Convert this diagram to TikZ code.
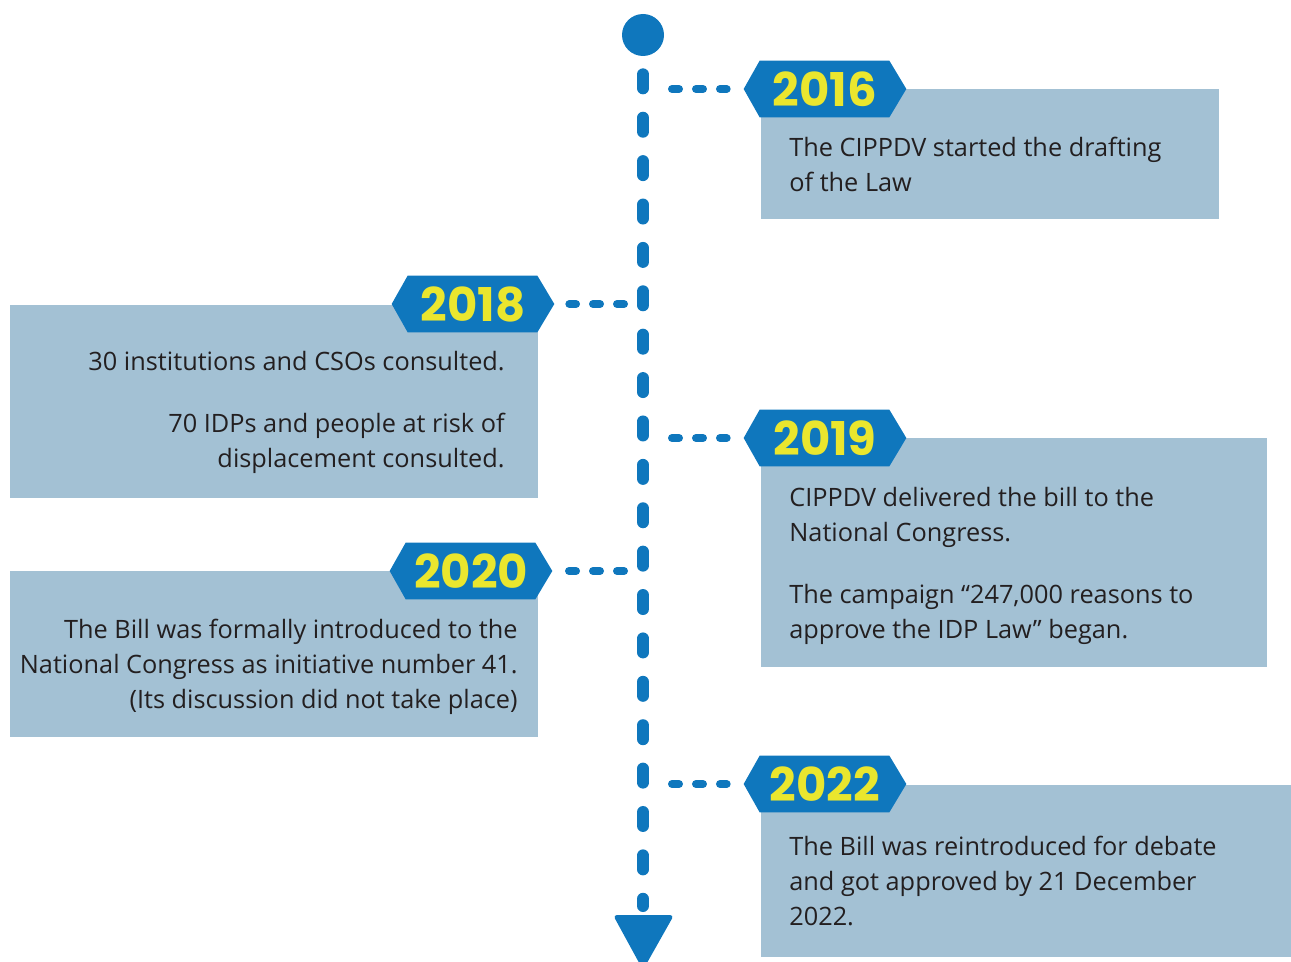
\documentclass[tikz,border=0pt]{standalone}
\usepackage{fontspec}
\setmainfont{Open Sans}
\newfontfamily\yearfont{Poppins}
\usetikzlibrary{backgrounds}

\definecolor{tlblue}{RGB}{15,119,189}
\definecolor{tlpanel}{RGB}{163,193,212}
\definecolor{tlyellow}{RGB}{234,230,46}
\definecolor{tlink}{RGB}{35,31,32}

\tikzset{
  badge/.style={minimum width=3.24cm, minimum height=1.12cm, inner sep=0pt,
    text=tlyellow, font=\yearfont\bfseries\fontsize{26.5}{26.5}\selectfont},
  panel/.style={fill=tlpanel},
  note/.style={inner sep=0pt, text=tlink, font=\fontsize{14.4}{19.9}\selectfont},
  spine/.style={draw=tlblue, line width=0.24cm, line cap=round,
    dash pattern=on 0.28cm off 0.588cm},
  linkr/.style={draw=tlblue, line width=0.16cm, line cap=round,
    dash pattern=on 0.14cm off 0.34cm, shorten <=0.58cm, shorten >=0.34cm},
  linkl/.style={draw=tlblue, line width=0.16cm, line cap=round,
    dash pattern=on 0.14cm off 0.34cm, shorten <=0.38cm, shorten >=0.3cm}
}

\begin{document}
\begin{tikzpicture}[x=0.02cm, y=-0.02cm]
  \useasboundingbox (0,0) rectangle (1291,962);

  % timeline
  \node[circle, fill=tlblue, minimum size=0.84cm, inner sep=0pt] (start) at (643,35) {};
  \coordinate (tipbase) at (643,915);
  \fill[tlblue, rounded corners=0.08cm] (613,915) -- (674,915) -- (643,970) -- cycle;
  \draw[spine] ([yshift=-0.36cm]start.south) -- ([yshift=0.18cm]tipbase);

  \coordinate (j16) at (643,89);
  \coordinate (j18) at (643,304);
  \coordinate (j19) at (643,438);
  \coordinate (j20) at (643,571);
  \coordinate (j22) at (643,784);

  % years
  \node[badge] (y16) at (825,89) {2016};
  \node[badge] (y18) at (473,304) {2018};
  \node[badge] (y19) at (825,438) {2019};
  \node[badge] (y20) at (471,571) {2020};
  \node[badge] (y22) at (825,784) {2022};

  \begin{scope}[on background layer]
    % panels
    \fill[panel] (761,89) rectangle (1219,219);
    \fill[panel] (10,305) rectangle (538,498);
    \fill[panel] (761,438) rectangle (1267,667);
    \fill[panel] (10,571) rectangle (538,737);
    \fill[panel] (761,785) rectangle (1291,957);
    \foreach \y in {y16,y18,y19,y20,y22}
      \fill[tlblue] (\y.west) -- ([xshift=0.32cm]\y.north west) -- ([xshift=-0.34cm]\y.north east)
        -- (\y.east) -- ([xshift=-0.34cm]\y.south east) -- ([xshift=0.32cm]\y.south west) -- cycle;
  \end{scope}

  \draw[linkr] (j16) -- (y16.west);
  \draw[linkl] (j18) -- (y18.east);
  \draw[linkr] (j19) -- (y19.west);
  \draw[linkl] (j20) -- (y20.east);
  \draw[linkr] (j22) -- (y22.west);

  % texts
  \node[note, anchor=north west, align=left] (t16) at (789,137)
    {The CIPPDV started the drafting\\of the Law};
  \node[note, anchor=north east, align=right] (t18) at (505,351)
    {30 institutions and CSOs consulted.\\[0.54cm]70 IDPs and people at risk of\\displacement consulted.};
  \node[note, anchor=north west, align=left] (t19) at (789,487)
    {CIPPDV delivered the bill to the\\National Congress.\\[0.54cm]The campaign “247,000 reasons to\\approve the IDP Law” began.};
  \node[note, anchor=north east, align=right] (t20) at (518,619)
    {The Bill was formally introduced to the\\National Congress as initiative number 41.\\(Its discussion did not take place)};
  \node[note, anchor=north west, align=left] (t22) at (789,836)
    {The Bill was reintroduced for debate\\and got approved by 21 December\\2022.};
\end{tikzpicture}
\end{document}
